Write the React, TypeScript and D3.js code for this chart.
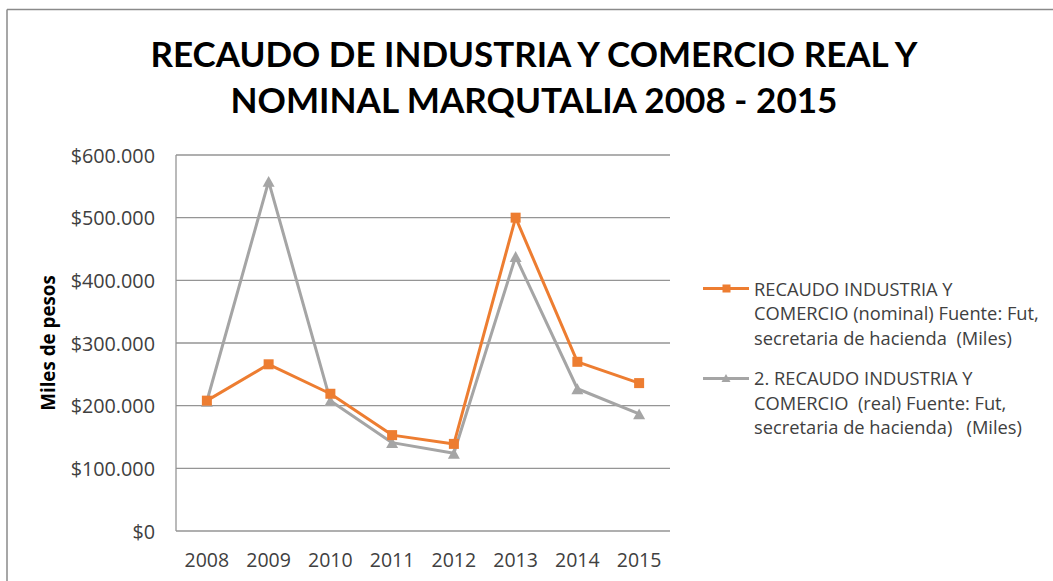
import React from "react";
import * as d3 from "d3";

const years = ["2008", "2009", "2010", "2011", "2012", "2013", "2014", "2015"];
const nominal = [208, 266, 219, 153, 139, 500, 270, 236];
const real = [207, 558, 208, 141, 124, 438, 227, 187];
const yTicks = [0, 100, 200, 300, 400, 500, 600];
const titleLines = [
  "RECAUDO DE INDUSTRIA Y COMERCIO REAL Y",
  "NOMINAL MARQUTALIA 2008 - 2015",
];
const legendNominal = [
  "RECAUDO INDUSTRIA Y",
  "COMERCIO (nominal) Fuente: Fut,",
  "secretaria de hacienda  (Miles)",
];
const legendReal = [
  "2. RECAUDO INDUSTRIA Y",
  "COMERCIO  (real) Fuente: Fut,",
  "secretaria de hacienda)   (Miles)",
];

const ORANGE = "#ED7D31";
const GRAY = "#A5A5A5";
const GRID = "#959595";
const FONT = "'Open Sans', sans-serif";

function fmt(v: number) {
  if (v === 0) return "$0";
  return "$" + v + ".000";
}

function tri(cx: number, cy: number, s: number) {
  const h = s * 0.9;
  return `M${cx},${cy - h / 2}L${cx + s / 2},${cy + h / 2}L${cx - s / 2},${cy + h / 2}Z`;
}

export default function App() {
  const W = 1053;
  const H = 581;
  const left = 176;
  const right = 670;
  const top = 155;
  const bottom = 531;

  const x = d3.scaleBand<string>().domain(years).range([left, right]);
  const y = d3.scaleLinear().domain([0, 600]).range([bottom, top]);
  const cx = (yr: string) => (x(yr) as number) + x.bandwidth() / 2;

  const line = d3
    .line<number>()
    .x((_, i) => cx(years[i]))
    .y((d) => y(d));

  return (
    <svg
      width={W}
      height={H}
      style={{ position: "absolute", left: 0, top: 0, background: "#fff" }}
      fontFamily={FONT}
    >
      <rect x={0} y={0} width={W} height={H} fill="#fff" />
      {/* outer chart border */}
      <line x1={7} y1={9.5} x2={W} y2={9.5} stroke="#8a8a8a" strokeWidth={1.5} />
      <line x1={7} y1={9.5} x2={7} y2={H} stroke="#8a8a8a" strokeWidth={1.5} />

      {/* title */}
      {titleLines.map((t, i) => (
        <text
          key={i}
          x={534}
          y={i === 0 ? 67 : 113}
          textAnchor="middle"
          fontFamily="Lato, sans-serif"
          fontWeight="bold"
          fontSize={33.5}
          textLength={i === 0 ? 767 : 607}
          lengthAdjust="spacingAndGlyphs"
          fill="#000"
        >
          {t}
        </text>
      ))}

      {/* gridlines */}
      {yTicks.map((t) => (
        <line
          key={t}
          x1={left}
          x2={right}
          y1={y(t)}
          y2={y(t)}
          stroke={GRID}
          strokeWidth={1.3}
        />
      ))}
      <line x1={left} x2={left} y1={top} y2={bottom} stroke={GRID} strokeWidth={1.3} />

      {/* y tick labels */}
      {yTicks.map((t) => (
        <text
          key={t}
          x={155}
          y={y(t) + 7.5}
          textAnchor="end"
          fontSize={19.8}
          fill="#404040"
        >
          {fmt(t)}
        </text>
      ))}

      {/* x tick labels */}
      {years.map((yr) => (
        <text
          key={yr}
          x={cx(yr)}
          y={567}
          textAnchor="middle"
          fontSize={19.5}
          fill="#404040"
        >
          {yr}
        </text>
      ))}

      {/* y axis title */}
      <text
        transform={`translate(55,343) rotate(-90)`}
        textAnchor="middle"
        fontWeight="bold"
        fontSize={18.8}
        fill="#000"
      >
        Miles de pesos
      </text>

      {/* series: real (gray) */}
      <path d={line(real) || ""} fill="none" stroke={GRAY} strokeWidth={3} strokeLinejoin="round" />
      {/* series: nominal (orange) */}
      <path d={line(nominal) || ""} fill="none" stroke={ORANGE} strokeWidth={3} strokeLinejoin="round" />
      {real.map((v, i) => (
        <path key={"r" + i} d={tri(cx(years[i]), y(v), 12)} fill={GRAY} />
      ))}
      {nominal.map((v, i) => (
        <rect
          key={"n" + i}
          x={cx(years[i]) - 5}
          y={y(v) - 5}
          width={10}
          height={10}
          fill={ORANGE}
        />
      ))}

      {/* legend */}
      <line x1={703} x2={749} y1={288.5} y2={288.5} stroke={ORANGE} strokeWidth={3} />
      <rect x={722.5} y={284.5} width={8} height={8} fill={ORANGE} />
      {legendNominal.map((t, i) => (
        <text key={i} x={754} y={295.7 + i * 24.6} fontSize={18.3} fill="#404040" xmlSpace="preserve">
          {t}
        </text>
      ))}
      <line x1={703} x2={749} y1={378.5} y2={378.5} stroke={GRAY} strokeWidth={3} />
      <path d={tri(726, 378, 9)} fill={GRAY} />
      {legendReal.map((t, i) => (
        <text key={i} x={754} y={385 + i * 24.6} fontSize={18.3} fill="#404040" xmlSpace="preserve">
          {t}
        </text>
      ))}
    </svg>
  );
}
